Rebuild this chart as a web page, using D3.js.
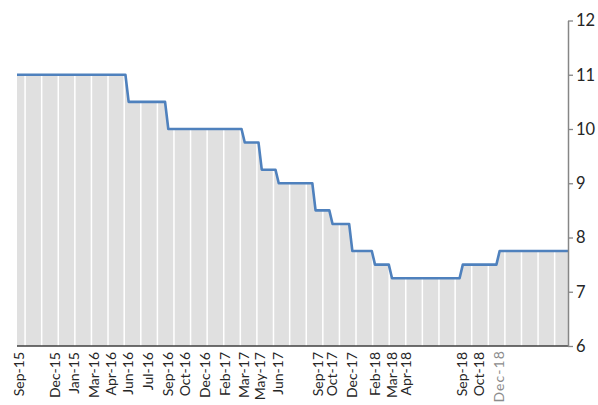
<!DOCTYPE html>
<html>
<head>
<meta charset="utf-8">
<script src="https://cdn.jsdelivr.net/npm/d3@7"></script>
<style>
  body { margin: 0; background: #fff; }
  svg { display: block; }
</style>
</head>
<body>
<div id="chart"></div>
<script>
var svgWidth = 598;
var svgHeight = 405;

// plot box (right edge = y axis, bottom = x axis)
var plot = { left: 17, right: 568, top: 20.5, bottom: 346 };

// ---- data ----
var startDate = "2015-09-12";
var endDate = "2019-06-05";
var startRate = 11;
var changeDates = ["2016-06-10", "2016-09-16", "2017-03-24", "2017-05-05", "2017-06-16", "2017-09-15",
    "2017-10-27", "2017-12-15", "2018-02-09", "2018-03-23", "2018-09-14", "2018-12-14"];
var newRates = [10.5, 10, 9.75, 9.25, 9, 8.5, 8.25, 7.75, 7.5, 7.25, 7.5, 7.75];

var tickDates = ["2015-09-18", "2015-12-14", "2016-02-01", "2016-03-21", "2016-05-02", "2016-06-13",
    "2016-08-01", "2016-09-19", "2016-10-31", "2016-12-19", "2017-02-06", "2017-03-27", "2017-05-05",
    "2017-06-19", "2017-09-25", "2017-10-30", "2017-12-18", "2018-02-12", "2018-03-26", "2018-04-30",
    "2018-09-17", "2018-10-29", "2018-12-17"];
var tickLabels = ["Sep-15", "Dec-15", "Jan-15", "Mar-16", "Apr-16", "Jun-16", "Jul-16", "Sep-16", "Oct-16",
    "Dec-16", "Feb-17", "Mar-17", "May-17", "Jun-17", "Sep-17", "Oct-17", "Dec-17", "Feb-18", "Mar-18",
    "Apr-18", "Sep-18", "Oct-18", "Dec-18"];
var yTicks = [6, 7, 8, 9, 10, 11, 12];

var parse = d3.timeParse("%Y-%m-%d");

// step points: last week on the old rate, first week on the new one
var points = [{ date: parse(startDate), v: startRate }];
var prev = startRate;
changeDates.forEach(function (d, i) {
    var dt = parse(d);
    points.push({ date: d3.timeDay.offset(dt, -4), v: prev });
    points.push({ date: d3.timeDay.offset(dt, 4), v: newRates[i] });
    prev = newRates[i];
});
points.push({ date: parse(endDate), v: prev });

// SVG
var svg = d3.select("#chart")
    .append("svg")
    .attr("width", svgWidth)
    .attr("height", svgHeight);

var x = d3.scaleTime()
    .domain([parse(startDate), parse(endDate)])
    .range([plot.left, plot.right]);

var y = d3.scaleLinear()
    .domain([6, 12])
    .range([plot.bottom, plot.top]);

// grey area under the rate
var area = d3.area()
    .x(d => x(d.date))
    .y0(y(6))
    .y1(d => y(d.v));

svg.append("path")
    .datum(points)
    .attr("d", area)
    .attr("fill", "#e0e0e0");

// white vertical separators, roughly every 41 days
var gridDates = d3.range(33).map(i => d3.timeDay.offset(parse(startDate), Math.round(20 + i * 40.9)));
svg.append("g")
    .selectAll("line")
    .data(gridDates)
    .enter()
    .append("line")
    .attr("x1", d => x(d))
    .attr("x2", d => x(d))
    .attr("y1", y(6))
    .attr("y2", y(12))
    .attr("stroke", "#ffffff")
    .attr("stroke-width", 1.5);

// the rate line
var line = d3.line()
    .x(d => x(d.date))
    .y(d => y(d.v));

svg.append("path")
    .datum(points)
    .attr("d", line)
    .attr("fill", "none")
    .attr("stroke", "#4f81bd")
    .attr("stroke-width", 2.6)
    .attr("stroke-linejoin", "round");

// x axis line
svg.append("line")
    .attr("x1", plot.left)
    .attr("x2", plot.right)
    .attr("y1", plot.bottom)
    .attr("y2", plot.bottom)
    .attr("stroke", "#404040")
    .attr("stroke-width", 1.3);

// y axis on the right
var rightAxis = d3.axisRight(y)
    .tickValues(yTicks)
    .tickFormat(d3.format("d"))
    .tickSize(5)
    .tickPadding(3)
    .tickSizeOuter(0);

var yAxis = svg.append("g")
    .attr("transform", `translate(${plot.right}, 0)`)
    .call(rightAxis);

yAxis.select(".domain").attr("stroke", "#868686").attr("stroke-width", 1.5);
yAxis.selectAll(".tick line").attr("stroke", "#868686").attr("stroke-width", 1.3);
yAxis.selectAll(".tick text")
    .attr("fill", "#262626")
    .attr("font-family", "Lato, sans-serif")
    .attr("font-size", "16.5px");

// rotated date labels (the last one is grey and spaced out, as in the source)
var last = tickDates.length - 1;
svg.append("g")
    .selectAll("text")
    .data(tickDates)
    .enter()
    .append("text")
    .attr("transform", (d, i) => `translate(${x(parse(d))}, ${i === last ? 350 : 352}) rotate(-90)`)
    .attr("text-anchor", "end")
    .attr("dy", "0.36em")
    .attr("font-family", "Lato, sans-serif")
    .attr("font-size", "14px")
    .attr("letter-spacing", (d, i) => i === last ? "1.1px" : null)
    .attr("fill", (d, i) => i === last ? "#8c8c8c" : "#262626")
    .text((d, i) => tickLabels[i]);
</script>
</body>
</html>
